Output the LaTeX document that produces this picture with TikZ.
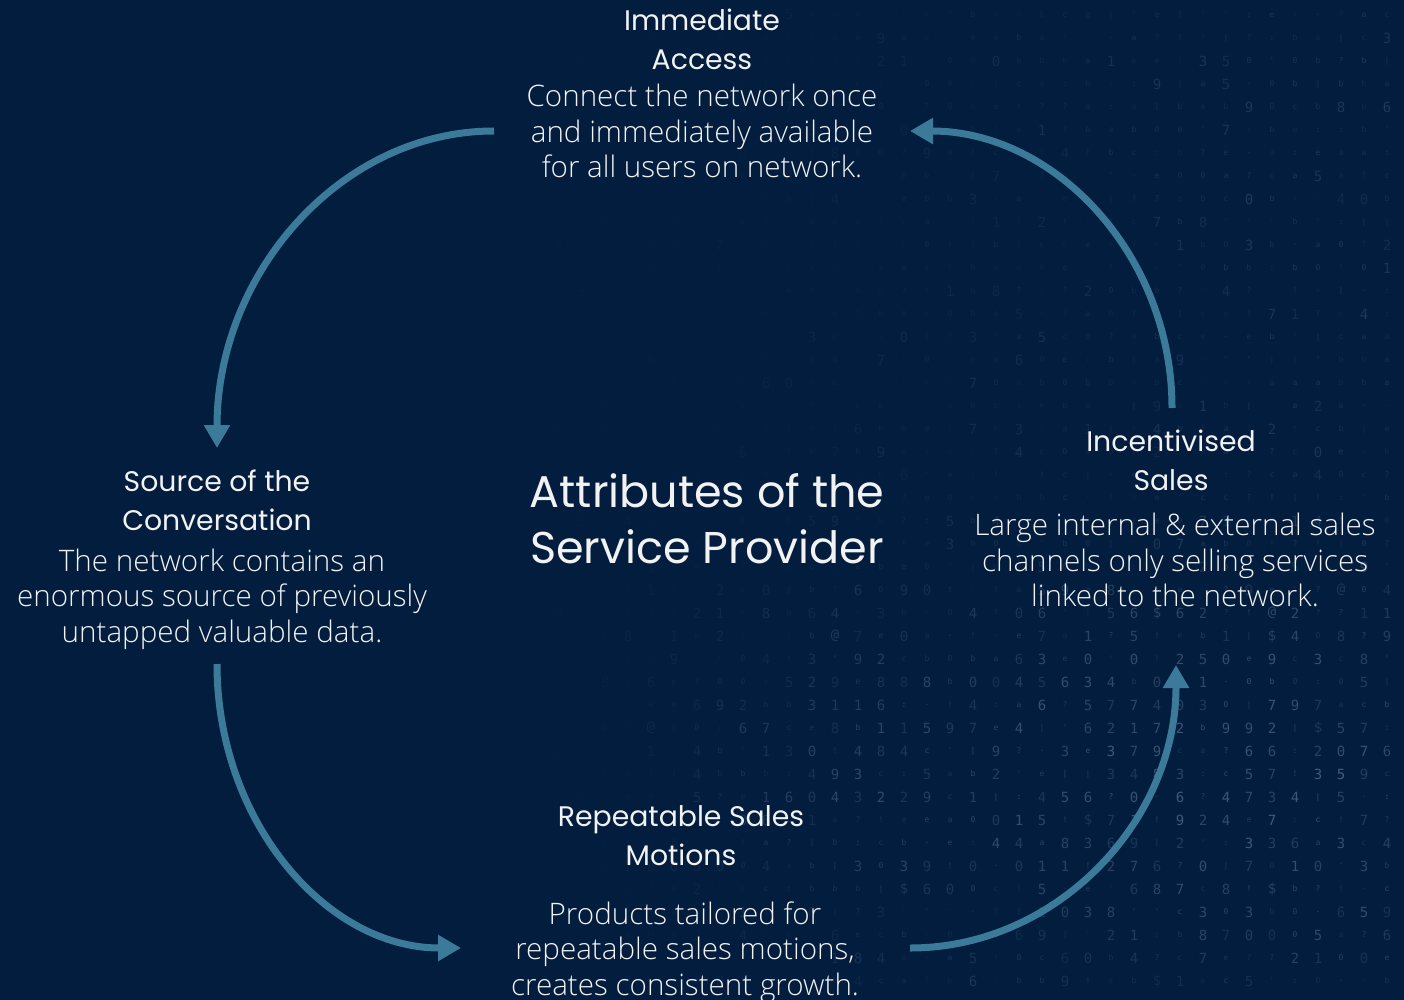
\documentclass[tikz,border=0pt]{standalone}
\usepackage{fontspec}
\usetikzlibrary{arrows.meta}
\setmainfont{Open Sans}
\newfontfamily\bodyfont{Open Sans Light}
\newfontfamily\headfont{Poppins}
\newfontfamily\gridfont{DejaVu Sans Mono}
\definecolor{navy}{RGB}{2,29,62}
\definecolor{steel}{RGB}{60,122,154}
\definecolor{paper}{RGB}{242,242,242}
\definecolor{glyph}{RGB}{150,170,200}
\begin{document}
\begin{tikzpicture}[x=1pt,y=-1pt,
  head/.style={inner sep=0pt,align=center,text=paper,font=\headfont\fontsize{28.3}{39}\selectfont},
  body/.style={inner sep=0pt,align=center,text=paper,font=\bodyfont\fontsize{29.6}{35.5}\selectfont},
  maintitle/.style={inner sep=0pt,align=center,text=paper,font=\headfont\fontsize{44.5}{56}\selectfont},
  conn/.style={draw=steel,line width=7pt,-{Triangle[length=23pt,width=25pt]}},
  cell/.style={inner sep=0pt,text=glyph,font=\gridfont\fontsize{14}{14}\selectfont},
  tick/.style={inner sep=0pt,text=glyph,font=\gridfont\fontsize{8}{8}\selectfont}]
\useasboundingbox (0,0) rectangle (1404,1000);
\fill[navy] (0,0) rectangle (1404,1000);

% faint matrix of characters in the background: digits are denser in the
% lower band, small marks elsewhere
\pgfmathsetseed{2718}
\foreach \i in {0,...,36}{
  \foreach \j in {0,...,42}{
    \pgfmathsetmacro\xx{559+23*\i}
    \pgfmathsetmacro\yy{15+23*\j}
    \pgfmathsetmacro\band{exp(-((\yy-770)/170)^2)*max(0,min(1,(\xx-570)/280))}
    \pgfmathsetmacro\op{min(0.5,(0.02+0.2*max(0,min(1,(\xx-680)/600))+0.26*\band)*(0.4+0.6*rnd))}
    \pgfmathsetmacro\opm{0.9*\op}
    \pgfmathsetmacro\pd{0.12+0.55*\band}
    \pgfmathsetmacro\u{rnd}
    \pgfmathrandominteger{\r}{0}{59}
    \pgfmathtruncatemacro\dg{mod(\r,10)}
    \pgfmathrandominteger{\s}{0}{11}
    \ifdim\u pt<\pd pt
      \node[cell,opacity=\op] (bg-\i-\j) at (\xx,\yy)
        {\ifnum\r>57 \ifnum\r=58 \$\else @\fi\else\dg\fi};
    \else
      \node[tick,opacity=\opm] (bg-\i-\j) at (\xx,\yy)
        {\ifcase\s\relax a\or b\or c\or e\or !\or ?\or :\or .\or '\or |\or b\or 0\fi};
    \fi
  }
}

% the four attributes
\node[head] (t-access) at (702,39) {Immediate\\Access};
\node[body] (b-access) at (702,131) {Connect the network once\\and immediately available\\for all users on network.};

\node[head] (t-source) at (217,500) {Source of the\\Conversation};
\node[body] (b-source) at (222,599) {The network contains an\\enormous source of previously\\untapped valuable data.};

\node[head] (t-sales) at (1171,460) {Incentivised\\Sales};
\node[body] (b-sales) at (1175,560) {Large internal \& external sales\\channels only selling services\\linked to the network.};

\node[head] (t-motion) at (681,836) {Repeatable Sales\\Motions};
\node[body] (b-motion) at (685,952) {Products tailored for\\repeatable sales motions,\\creates consistent growth.};

\node[maintitle] (centre) at (707,519) {Attributes of the\\Service Provider};

% connector end points
\coordinate (a1s) at (494,131);
\coordinate (a1e) at (217,448);
\coordinate (a2s) at (217,664);
\coordinate (a2e) at (461,948);
\coordinate (a3s) at (910,948);
\coordinate (a3e) at (1176,665);
\coordinate (a4s) at (1172,408);
\coordinate (a4e) at (910,131);

% cycle of curved arrows
\draw[conn] (a1s) .. controls (341,131) and (217,273) .. (a1e);
\draw[conn] (a2s) .. controls (217,821) and (326,948) .. (a2e);
\draw[conn] (a3s) .. controls (1057,948) and (1176,821) .. (a3e);
\draw[conn] (a4s) .. controls (1172,255) and (1055,131) .. (a4e);
\end{tikzpicture}
\end{document}
